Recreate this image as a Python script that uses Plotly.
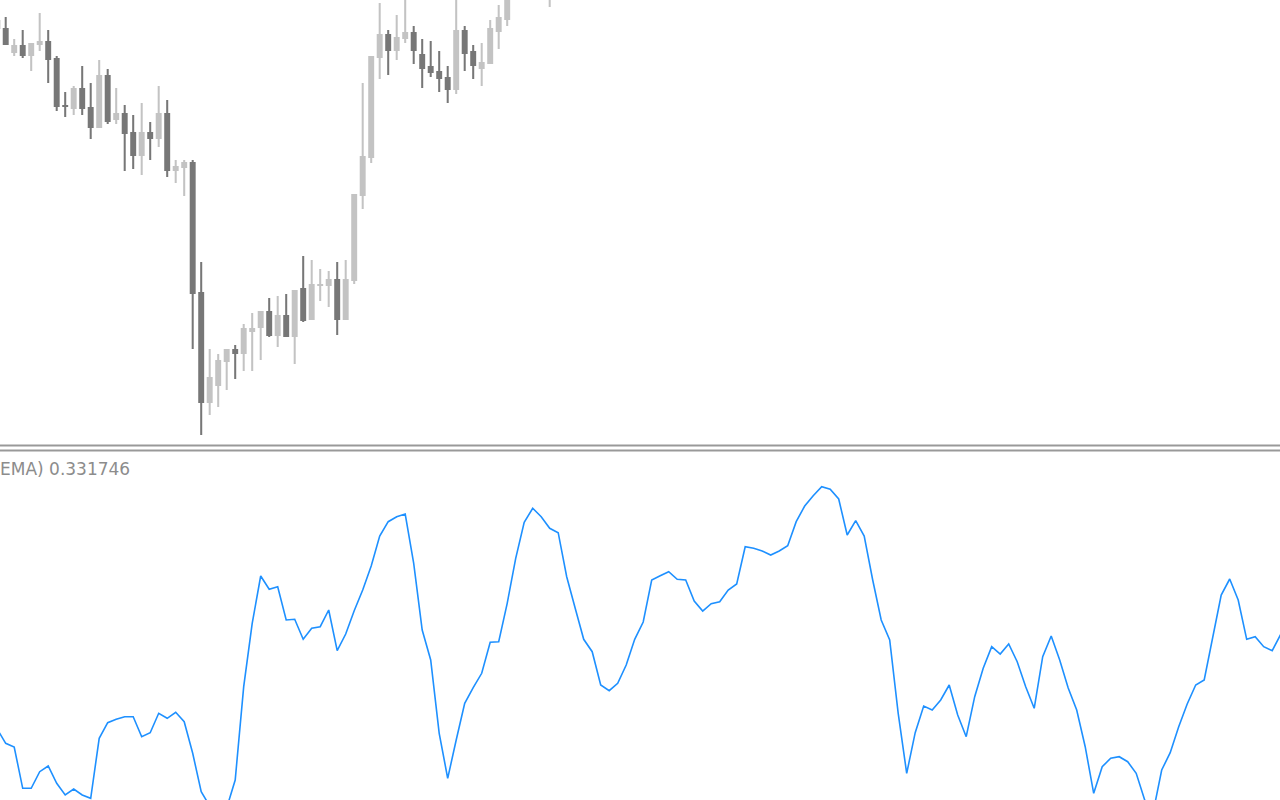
import plotly.graph_objects as go

# ---- price panel (candles), bar index -> OHLC ----
bar_index = list(range(0, 61)) + [65]
open_ = [1.2980, 1.2972, 1.2947, 1.2955, 1.2944, 1.2955, 1.2959, 1.2942, 1.2895, 1.2891,
         1.2912, 1.2893, 1.2872, 1.2925, 1.2880, 1.2887, 1.2868, 1.2844, 1.2868, 1.2861,
         1.2887, 1.2829, 1.2832, 1.2838, 1.2708, 1.2597, 1.2614, 1.2638, 1.2651, 1.2646,
         1.2668, 1.2672, 1.2689, 1.2664, 1.2685, 1.2663, 1.2712, 1.2680, 1.2714, 1.2714,
         1.2721, 1.2680, 1.2719, 1.2804, 1.2842, 1.2942, 1.2966, 1.2949, 1.2961, 1.2968,
         1.2946, 1.2934, 1.2929, 1.2923, 1.2910, 1.2970, 1.2949, 1.2931, 1.2936, 1.2968,
         1.2980, 1.3012]
high_ = [1.2985, 1.2983, 1.2961, 1.2970, 1.2957, 1.2987, 1.2970, 1.2944, 1.2908, 1.2914,
         1.2934, 1.2917, 1.2940, 1.2931, 1.2912, 1.2895, 1.2885, 1.2897, 1.2878, 1.2914,
         1.2900, 1.2840, 1.2840, 1.2840, 1.2738, 1.2651, 1.2646, 1.2651, 1.2655, 1.2676,
         1.2687, 1.2689, 1.2702, 1.2704, 1.2706, 1.2710, 1.2744, 1.2740, 1.2731, 1.2729,
         1.2738, 1.2740, 1.2806, 1.2917, 1.2944, 1.2997, 1.2970, 1.2985, 1.3005, 1.2974,
         1.2961, 1.2959, 1.2949, 1.2934, 1.3010, 1.2974, 1.2955, 1.2957, 1.2980, 1.2995,
         1.3015, 1.3052]
low_ = [1.2968, 1.2955, 1.2944, 1.2942, 1.2929, 1.2949, 1.2917, 1.2889, 1.2883, 1.2885,
        1.2885, 1.2861, 1.2872, 1.2876, 1.2876, 1.2829, 1.2831, 1.2825, 1.2840, 1.2853,
        1.2823, 1.2817, 1.2804, 1.2651, 1.2565, 1.2585, 1.2593, 1.2610, 1.2621, 1.2629,
        1.2629, 1.2640, 1.2663, 1.2653, 1.2663, 1.2636, 1.2678, 1.2680, 1.2699, 1.2693,
        1.2665, 1.2680, 1.2716, 1.2791, 1.2837, 1.2921, 1.2925, 1.2940, 1.2957, 1.2936,
        1.2912, 1.2923, 1.2908, 1.2897, 1.2906, 1.2929, 1.2921, 1.2914, 1.2936, 1.2951,
        1.2974, 1.2993]
close_ = [1.2971, 1.2955, 1.2955, 1.2944, 1.2957, 1.2959, 1.2940, 1.2893, 1.2893, 1.2912,
          1.2891, 1.2872, 1.2925, 1.2878, 1.2887, 1.2866, 1.2844, 1.2868, 1.2861, 1.2887,
          1.2829, 1.2834, 1.2838, 1.2706, 1.2597, 1.2623, 1.2640, 1.2651, 1.2646, 1.2672,
          1.2672, 1.2689, 1.2664, 1.2685, 1.2663, 1.2710, 1.2679, 1.2716, 1.2716, 1.2721,
          1.2680, 1.2721, 1.2806, 1.2844, 1.2944, 1.2966, 1.2949, 1.2963, 1.2968, 1.2949,
          1.2931, 1.2927, 1.2921, 1.2910, 1.2970, 1.2946, 1.2934, 1.2938, 1.2972, 1.2983,
          1.3005, 1.3038]

# ---- indicator panel ----
ind_index = list(range(0, 152))
ind_values = [
    -1.560, -1.846, -1.920, -2.746, -2.746, -2.414, -2.300, -2.646, -2.880, -2.760,
    -2.880, -2.946, -1.746, -1.434, -1.366, -1.314, -1.314, -1.714, -1.634, -1.246,
    -1.346, -1.226, -1.414, -2.046, -2.814, -3.100, -3.220, -3.140, -2.580, -0.714,
    0.554, 1.500, 1.234, 1.286, 0.620, 0.634, 0.234, 0.454, 0.486, 0.820,
    0.006, 0.340, 0.806, 1.220, 1.700, 2.300, 2.586, 2.686, 2.740, 1.754,
    0.420, -0.180, -1.646, -2.546, -1.780, -1.046, -0.734, -0.446, 0.174, 0.186,
    0.954, 1.854, 2.574, 2.854, 2.686, 2.454, 2.366, 1.486, 0.854, 0.234,
    -0.014, -0.680, -0.794, -0.646, -0.280, 0.234, 0.580, 1.420, 1.506, 1.586,
    1.434, 1.420, 1.000, 0.800, 0.946, 0.986, 1.220, 1.340, 2.086, 2.054,
    2.000, 1.920, 2.000, 2.106, 2.586, 2.900, 3.106, 3.286, 3.234, 3.040,
    2.320, 2.606, 2.300, 1.420, 0.620, 0.220, -1.246, -2.446, -1.634, -1.100,
    -1.180, -0.980, -0.680, -1.280, -1.714, -0.914, -0.346, 0.086, -0.060, 0.140,
    -0.214, -0.714, -1.146, -0.114, 0.300, -0.180, -0.740, -1.180, -1.914, -2.846,
    -2.314, -2.146, -2.114, -2.214, -2.446, -2.980, -3.220, -2.380, -2.034, -1.514,
    -1.060, -0.680, -0.580, 0.286, 1.120, 1.440, 1.020, 0.234, 0.286, 0.086,
    0.006, 0.334,
]
ind_label = "EMA) 0.331746"

UP_COLOR = "#c3c3c3"
DOWN_COLOR = "#777777"
W, H = 1280, 800
x_range = [0.3294, 150.918]
price_range = [1.2557, 1.3000]
ind_range = [-2.98, 3.98]

colors = [UP_COLOR if c > o else DOWN_COLOR for o, c in zip(open_, close_)]
body_base = [min(o, c) for o, c in zip(open_, close_)]
body_len = [abs(c - o) for o, c in zip(open_, close_)]
wick_len = [h - l for h, l in zip(high_, low_)]

fig = go.Figure()
# wicks
fig.add_trace(go.Bar(
    x=bar_index, y=wick_len, base=low_, width=0.24,
    marker=dict(color=colors, line=dict(width=0)),
    xaxis="x", yaxis="y", showlegend=False, hoverinfo="skip",
))
# bodies
fig.add_trace(go.Bar(
    x=bar_index, y=body_len, base=body_base, width=0.7,
    marker=dict(color=colors, line=dict(width=0)),
    xaxis="x", yaxis="y", showlegend=False,
))
fig.add_trace(go.Scatter(
    x=ind_index, y=ind_values, mode="lines",
    line=dict(color="#1E90FF", width=1.6),
    xaxis="x2", yaxis="y2", showlegend=False,
))

ax_common = dict(visible=False, showgrid=False, zeroline=False, fixedrange=True)
fig.update_layout(
    width=W, height=H,
    margin=dict(l=0, r=0, t=0, b=0, pad=0),
    paper_bgcolor="white", plot_bgcolor="white",
    barmode="overlay",
    xaxis=dict(range=x_range, domain=[0, 1], anchor="y", **ax_common),
    yaxis=dict(range=price_range, domain=[1 - 443 / H, 1], anchor="x", **ax_common),
    xaxis2=dict(range=x_range, domain=[0, 1], anchor="y2", **ax_common),
    yaxis2=dict(range=ind_range, domain=[0, 1 - 452 / H], anchor="x2", **ax_common),
    shapes=[
        dict(type="line", xref="paper", yref="paper", x0=0, x1=1,
             y0=1 - 445.5 / H, y1=1 - 445.5 / H, line=dict(color="#999999", width=2)),
        dict(type="line", xref="paper", yref="paper", x0=0, x1=1,
             y0=1 - 450.5 / H, y1=1 - 450.5 / H, line=dict(color="#999999", width=2)),
    ],
    annotations=[
        dict(text=ind_label, xref="paper", yref="paper", x=0, y=1 - 469 / H,
             xanchor="left", yanchor="middle", showarrow=False, xshift=-2,
             font=dict(family="DejaVu Sans", size=17, color="#8c8c8c")),
    ],
)

fig.write_html("out.html", config={"displayModeBar": False, "staticPlot": True},
               post_script="document.body.style.margin='0';document.body.style.overflow='hidden';")
